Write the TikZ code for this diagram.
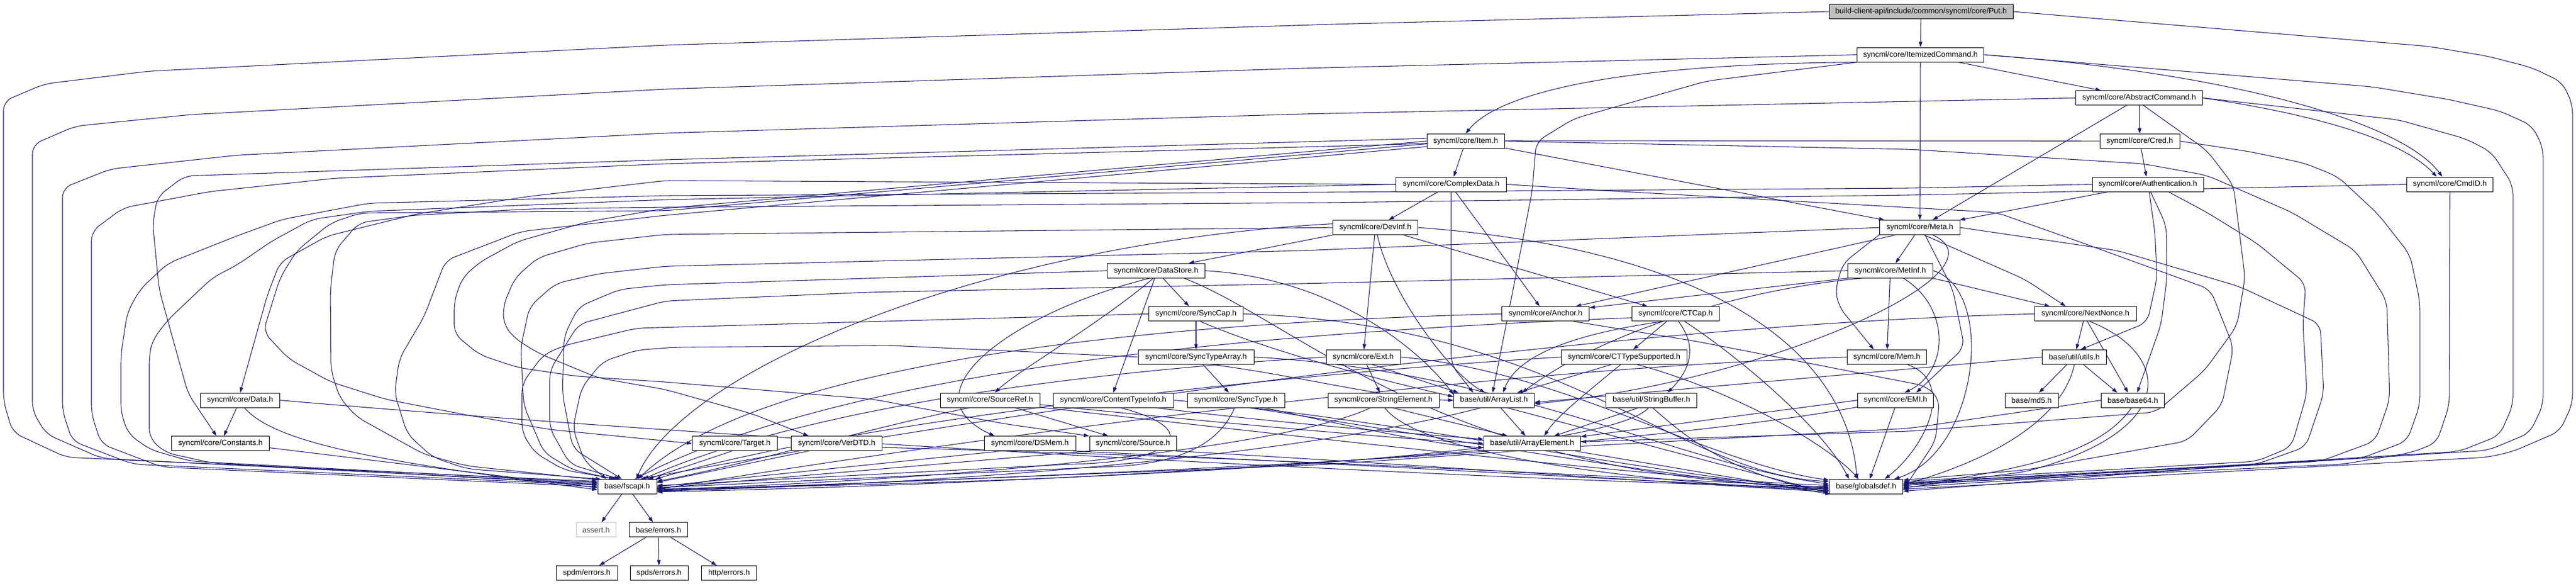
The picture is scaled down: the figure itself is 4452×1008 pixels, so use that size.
\documentclass[tikz,border=0pt]{standalone}
\usepackage{fontspec}
\setmainfont{Liberation Sans}
\usetikzlibrary{arrows.meta}
\pgfdeclarelayer{bg}
\pgfsetlayers{bg,main}
\definecolor{edgec}{HTML}{191970}
\definecolor{putfill}{HTML}{BFBFBF}
\definecolor{sysgray}{HTML}{BFBFBF}
\begin{document}
\begin{tikzpicture}[x=0.75pt,y=-0.75pt,
  nb/.style={draw=black,fill=white,line width=0.75pt,minimum height=18.75pt,inner xsep=1pt,inner ysep=0pt,font=\fontsize{10}{12}\selectfont},
  bw/.style={minimum width=#1*0.75pt},
  edg/.style={draw=edgec,line width=0.8pt,-{Triangle[length=7pt,width=4.6pt]},rounded corners=12pt}]
\useasboundingbox (0,0) rectangle (4452,1008);
% nodes
\node[nb,fill=putfill,bw=318] (put) at (3320,20) {build-client-api/include/common/syncml/core/Put.h};
\node[nb,bw=219] (itc) at (3319,94.6) {syncml/core/ItemizedCommand.h};
\node[nb,bw=219] (abs) at (3697,169.2) {syncml/core/AbstractCommand.h};
\node[nb,bw=138] (cred) at (3698,243.8) {syncml/core/Cred.h};
\node[nb,bw=192] (auth) at (3712,318.5) {syncml/core/Authentication.h};
\node[nb,bw=149] (cmdid) at (4234,318.5) {syncml/core/CmdID.h};
\node[nb,bw=134] (item) at (2533,243.8) {syncml/core/Item.h};
\node[nb,bw=191] (cplx) at (2508,318.5) {syncml/core/ComplexData.h};
\node[nb,bw=147] (devinf) at (2377,393.1) {syncml/core/DevInf.h};
\node[nb,bw=139] (meta) at (3318,393.1) {syncml/core/Meta.h};
\node[nb,bw=147] (metinf) at (3267,467.7) {syncml/core/MetInf.h};
\node[nb,bw=169] (dstore) at (1998,467.7) {syncml/core/DataStore.h};
\node[nb,bw=163] (synccap) at (2067,542.3) {syncml/core/SyncCap.h};
\node[nb,bw=151] (anchor) at (2671,542.3) {syncml/core/Anchor.h};
\node[nb,bw=151] (ctcap) at (2896,542.3) {syncml/core/CTCap.h};
\node[nb,bw=176] (nnonce) at (3604,542.3) {syncml/core/NextNonce.h};
\node[nb,bw=200] (sta) at (2067,616.9) {syncml/core/SyncTypeArray.h};
\node[nb,bw=128] (ext) at (2356,616.9) {syncml/core/Ext.h};
\node[nb,bw=217] (ctts) at (2807,616.9) {syncml/core/CTTypeSupported.h};
\node[nb,bw=137] (mem) at (3261,616.9) {syncml/core/Mem.h};
\node[nb,bw=111] (utils) at (3585,616.9) {base/util/utils.h};
\node[nb,bw=137] (data) at (415,691.5) {syncml/core/Data.h};
\node[nb,bw=172] (srcref) at (1711,691.5) {syncml/core/SourceRef.h};
\node[nb,bw=208] (cti) at (1924,691.5) {syncml/core/ContentTypeInfo.h};
\node[nb,bw=168] (synctype) at (2136,691.5) {syncml/core/SyncType.h};
\node[nb,bw=192] (strel) at (2391,691.5) {syncml/core/StringElement.h};
\node[nb,bw=139] (alist) at (2582,691.5) {base/util/ArrayList.h};
\node[nb,bw=157] (strbuf) at (2854,691.5) {base/util/StringBuffer.h};
\node[nb,bw=131] (emi) at (3276,691.5) {syncml/core/EMI.h};
\node[nb,bw=92] (md5) at (3511,691.5) {base/md5.h};
\node[nb,bw=109] (b64) at (3686,691.5) {base/base64.h};
\node[nb,bw=169] (consts) at (381,766.2) {syncml/core/Constants.h};
\node[nb,bw=147] (target) at (1270,766.2) {syncml/core/Target.h};
\node[nb,bw=157] (verdtd) at (1446,766.2) {syncml/core/VerDTD.h};
\node[nb,bw=158] (dsmem) at (1780,766.2) {syncml/core/DSMem.h};
\node[nb,bw=150] (source) at (1958,766.2) {syncml/core/Source.h};
\node[nb,bw=167] (aelem) at (2648,766.2) {base/util/ArrayElement.h};
\node[nb,bw=102] (fscapi) at (1084,840.8) {base/fscapi.h};
\node[nb,bw=127] (gdef) at (3225,840.8) {base/globalsdef.h};
\node[nb,draw=sysgray,text=black!75,bw=68] (assert) at (1030,915.4) {assert.h};
\node[nb,bw=101] (errors) at (1138,915.4) {base/errors.h};
\node[nb,bw=106] (spdm) at (1014,990) {spdm/errors.h};
\node[nb,bw=100] (spds) at (1139,990) {spds/errors.h};
\node[nb,bw=95] (http) at (1260,990) {http/errors.h};
\begin{pgfonlayer}{bg}
\fill[white] (0,0) rectangle (4452,1008);
% put
\draw[edg] (put) -- (itc);
\draw[edg] (put.west) -- (2300,42) -- (1150,78) -- (257,123) -- (77,145) -- (6,175) -- (6,693) -- (22,747) -- (114,790) -- (fscapi.170);
\draw[edg] (put.east) -- (4196,80) -- (4299,97) -- (4376,117) -- (4428,142) -- (4446,180) -- (4446,697) -- (4424,745) -- (4343,780) -- (4299,790) -- (gdef.-4);
% itc
\draw[edg] (itc.south west) .. controls (2800,110) and (2590,160) .. (item.north);
\draw[edg] (itc.south west) -- (2950,140) -- (2720,205) -- (2655,245) -- (2648,330) -- (2615,500) -- (alist.100);
\draw[edg] (itc) -- (meta);
\draw[edg] (itc) -- (abs);
\draw[edg] (itc.east) .. controls (3850,125) and (4150,210) .. (cmdid.135);
\draw[edg] (itc.west) -- (2250,118) -- (1150,154) -- (330,198) -- (130,218) -- (56,250) -- (56,710) -- (80,750) -- (176,792) -- (fscapi.174);
\draw[edg] (itc.east) -- (4100,150) -- (4233,172) -- (4321,192) -- (4376,217) -- (4395,255) -- (4395,700) -- (4372,748) -- (4300,778) -- (gdef.-1);
% abs
\draw[edg] (abs) -- (cred);
\draw[edg] (abs) -- (meta);
\draw[edg] (abs.east) .. controls (3950,190) and (4140,230) .. (cmdid.150);
\draw[edg] (abs.-60) -- (3814,260) -- (3860,320) -- (3880,480) -- (3866,563) -- (3810,640) -- (3726,712) -- (3300,745) -- (aelem.2);
\draw[edg] (abs.west) -- (2250,197) -- (1150,230) -- (411,268) -- (191,292) -- (108,325) -- (108,710) -- (125,762) -- (230,802) -- (fscapi.177);
\draw[edg] (abs.east) -- (4145,207) -- (4262,240) -- (4306,263) -- (4343,320) -- (4343,700) -- (4320,752) -- (4250,780) -- (gdef.2);
% cmdid
\draw[edg] (cmdid.south) -- (4233,700) -- (4211,765) -- (4167,782) -- (4049,802) -- (gdef.4);
\draw[edg] (cmdid.west) -- (3300,337) -- (2300,350) -- (1150,358) -- (917,361) -- (715,372) -- (620,385) -- (579,433) -- (571,500) -- (572,640) -- (587,687) -- (616,720) -- (733,785) -- (807,805) -- (fscapi.167);
% cred
\draw[edg] (cred) -- (auth);
\draw[edg] (cred.west) -- (2600,243) -- (2400,250) -- (1150,283) -- (579,308) -- (363,331) -- (213,359) -- (158,400) -- (158,715) -- (175,767) -- (280,807) -- (fscapi.180);
\draw[edg] (cred.east) -- (3888,262) -- (3983,282) -- (4040,305) -- (4110,370) -- (4165,440) -- (4182,520) -- (4182,700) -- (4160,762) -- (4080,792) -- (gdef.6);
% auth
\draw[edg] (auth) -- (meta);
\draw[edg] (auth.-80) -- (3724,400) -- (3728,480) -- (3711,557) -- (utils.50);
\draw[edg] (auth.-70) -- (3744,390) -- (3745,480) -- (3735,560) -- (b64.60);
\draw[edg] (auth.west) -- (3300,325) -- (2300,332) -- (1150,338) -- (638,351) -- (488,379) -- (411,407) -- (290,455) -- (242,500) -- (220,540) -- (209,613) -- (209,713) -- (222,750) -- (260,777) -- (330,797) -- (fscapi.172);
\draw[edg] (auth.-20) -- (3814,367) -- (3900,420) -- (3985,490) -- (3980,560) -- (3987,680) -- (3960,772) -- (3900,797) -- (gdef.8);
% item
\draw[edg] (item) -- (cplx);
\draw[edg] (item.-10) -- (meta.168);
\draw[edg] (item.176) -- (1150,276) -- (319,304) -- (272,340) -- (264,387) -- (275,500) -- (300,590) -- (325,680) -- (consts.118);
\draw[edg] (item.184) -- (1150,364) -- (623,368) -- (572,385) -- (513,433) -- (484,480) -- (455,573) -- (499,620) -- (572,660) -- (667,690) -- (807,717) -- (950,742) -- (target.west);
\draw[edg] (item.180) -- (1150,360) -- (1016,383) -- (895,417) -- (829,453) -- (799,480) -- (785,520) -- (785,577) -- (829,613) -- (895,635) -- (997,650) -- (1150,660) -- (1510,690) -- (1735,732) -- (source.north west);
\draw[edg] (item.188) -- (1150,372) -- (900,400) -- (770,450) -- (733,547) -- (690,620) -- (682,680) -- (704,750) -- (748,790) -- (807,810) -- (fscapi.164);
\draw[edg] (item.east) -- (3300,258) -- (3704,283) -- (3814,303) -- (3961,367) -- (4071,433) -- (4125,520) -- (4130,690) -- (4105,762) -- (4010,797) -- (gdef.5);
% cplx
\draw[edg] (cplx) -- (devinf);
\draw[edg] (cplx.south) -- (2508,630) -- (alist.160);
\draw[edg] (cplx.-60) -- (2625,480) -- (anchor.128);
\draw[edg] (cplx.west) -- (1150,312) -- (909,340) -- (719,370) -- (565,408) -- (484,453) -- (462,510) -- (data.north);
\draw[edg] (cplx.west) -- (1150,345) -- (638,365) -- (539,379) -- (469,417) -- (411,457) -- (367,480) -- (290,553) -- (264,587) -- (258,613) -- (258,757) -- (286,782) -- (367,800) -- (fscapi.176);
\draw[edg] (cplx.east) -- (2786,330) -- (3450,367) -- (3600,420) -- (3820,500) -- (3860,600) -- (3840,700) -- (3780,762) -- (3500,812) -- (gdef.10);
% devinf
\draw[edg] (devinf.south west) -- (dstore.13);
\draw[edg] (devinf.-15) -- (ctcap.165);
\draw[edg] (devinf) -- (ext);
\draw[edg] (devinf.-75) .. controls (2400,500) and (2500,640) .. (alist.140);
\draw[edg] (devinf.west) -- (1150,405) -- (1016,420) -- (930,445) -- (890,480) -- (870,527) -- (870,560) -- (890,585) -- (930,610) -- (1034,653) -- (1150,673) -- (1300,715) -- (verdtd.165);
\draw[edg] (devinf.175) .. controls (1700,420) and (1180,640) .. (fscapi.40);
\draw[edg] (devinf.east) .. controls (2950,430) and (3190,600) .. (gdef.140);
% meta
\draw[edg] (meta) -- (metinf);
\draw[edg] (meta.-163) -- (anchor.14);
\draw[edg] (meta.-60) -- (3500,483) -- (nnonce.159);
\draw[edg] (meta.-170) -- (3185,455) -- (3172,500) -- (3178,530) -- (mem.150);
\draw[edg] (meta.-55) -- (3375,500) -- (3395,600) -- (emi.20);
\draw[edg] (meta.-30) .. controls (3480,470) and (3050,660) .. (alist.-5);
\draw[edg] (meta.west) -- (2250,433) -- (1150,460) -- (1034,473) -- (960,490) -- (915,530) -- (900,600) -- (905,700) -- (940,782) -- (990,812) -- (fscapi.150);
\draw[edg] (meta.east) -- (3660,433) -- (3870,495) -- (4010,560) -- (4016,680) -- (3985,772) -- (3900,802) -- (gdef.-7);
% metinf
\draw[edg] (metinf.south west) -- (anchor.8);
\draw[edg] (metinf.-10) -- (nnonce.168);
\draw[edg] (metinf) -- (mem);
\draw[edg] (metinf.-30) .. controls (3370,530) and (3370,640) .. (emi.40);
\draw[edg] (metinf.-165) .. controls (3000,500) and (2760,580) .. (alist.15);
\draw[edg] (metinf.west) -- (2250,490) -- (1500,505) -- (1150,520) -- (1000,560) -- (950,640) -- (950,740) -- (985,802) -- (fscapi.135);
\draw[edg] (metinf.east) .. controls (3450,500) and (3420,780) .. (gdef.15);
% dstore
\draw[edg] (dstore) -- (synccap);
\draw[edg] (dstore.-110) .. controls (1900,560) and (1760,640) .. (srcref.58);
\draw[edg] (dstore.-100) -- (cti.north);
\draw[edg] (dstore.-130) .. controls (1750,540) and (1560,680) .. (dsmem.168);
\draw[edg] (dstore.east) .. controls (2300,480) and (2450,600) .. (alist.172);
\draw[edg] (dstore.west) -- (1150,492) -- (1071,500) -- (1000,530) -- (975,580) -- (972,680) -- (990,775) -- (fscapi.125);
\draw[edg] (dstore.-15) .. controls (2250,560) and (2500,830) .. (gdef.west);
% synccap
\draw[edg] (synccap) -- (sta);
\draw[edg] (synccap.-60) .. controls (2200,610) and (2400,660) .. (alist.175);
\draw[edg] (synccap.west) -- (1100,567) -- (975,597) -- (939,613) -- (902,663) -- (902,747) -- (924,782) -- (975,812) -- (fscapi.145);
\draw[edg] (synccap.east) .. controls (2700,560) and (2900,820) .. (gdef.172);
% sta
\draw[edg] (sta) -- (synctype);
\draw[edg] (sta.-25) .. controls (2250,650) and (2400,690) .. (alist.180);
\draw[edg] (sta.west) -- (1760,607) -- (1540,597) -- (1166,600) -- (1100,605) -- (1041,625) -- (1005,670) -- (990,740) -- (1010,797) -- (fscapi.160);
\draw[edg] (sta.east) .. controls (2600,640) and (2900,800) .. (gdef.176);
% srcref
\draw[edg] (srcref) -- (source.163);
\draw[edg] (srcref.-160) .. controls (1500,740) and (1300,800) .. (fscapi.10);
\draw[edg] (srcref.-8) .. controls (2300,760) and (2900,830) .. (gdef.178);
\draw[edg] (srcref.-5) .. controls (2200,740) and (2450,760) .. (aelem.west);
% cti
\draw[edg] (cti.-45) .. controls (2090,745) and (2020,797) .. (1850,802) -- (fscapi.2);
\draw[edg] (cti.east) .. controls (2400,720) and (2900,830) .. (gdef.183);
\draw[edg] (cti.-10) .. controls (2200,730) and (2450,750) .. (aelem.175);
% synctype
\draw[edg] (synctype.-100) .. controls (2110,760) and (2050,802) .. (1900,807) -- (fscapi.-2);
\draw[edg] (synctype.-30) .. controls (2400,740) and (2900,830) .. (gdef.186);
\draw[edg] (synctype.-15) .. controls (2350,740) and (2480,768) .. (aelem.185);
% target, verdtd, dsmem, source
\draw[edg] (target.-110) -- (fscapi.20);
\draw[edg] (verdtd.-165) -- (fscapi.8);
\draw[edg] (verdtd.-5) .. controls (2200,790) and (2900,830) .. (gdef.181);
\draw[edg] (dsmem.-165) -- (fscapi.0);
\draw[edg] (dsmem.-10) .. controls (2300,800) and (2900,835) .. (gdef.-176);
\draw[edg] (source.-170) -- (fscapi.-3);
\draw[edg] (source.-10) .. controls (2400,800) and (2900,835) .. (gdef.-172);
% data, consts
\draw[edg] (data) -- (consts);
\draw[edg] (data.-60) .. controls (480,772) and (700,802) .. (fscapi.-174);
\draw[edg] (data.east) .. controls (1400,770) and (2600,830) .. (gdef.-178);
\draw[edg] (consts.-5) -- (fscapi.-178);
% anchor
\draw[edg] (anchor.west) .. controls (1900,560) and (1300,640) .. (fscapi.35);
\draw[edg] (anchor.-15) -- (2933,590) -- (3329,667) -- (3352,690) -- (3345,762) -- (gdef.-5);
% ctcap
\draw[edg] (ctcap) -- (ctts);
\draw[edg] (ctcap.-150) .. controls (2700,580) and (2620,620) .. (alist.40);
\draw[edg] (ctcap.-70) .. controls (2935,600) and (2920,640) .. (strbuf.25);
\draw[edg] (ctcap.-40) .. controls (3010,620) and (3150,740) .. (gdef.156);
\draw[edg] (ctcap.-175) .. controls (2300,570) and (1500,620) .. (fscapi.45);
% ext
\draw[edg] (ext) -- (strel);
\draw[edg] (ext.-40) -- (alist.168);
\draw[edg] (ext.west) .. controls (1900,640) and (1400,700) .. (fscapi.25);
\draw[edg] (ext.east) .. controls (2700,640) and (2950,800) .. (gdef.170);
% ctts
\draw[edg] (ctts.-150) -- (alist.18);
\draw[edg] (ctts.-115) .. controls (2740,680) and (2690,720) .. (aelem.32);
\draw[edg] (ctts.-30) .. controls (2980,670) and (3150,760) .. (gdef.134);
\draw[edg] (ctts.west) .. controls (2300,640) and (1500,720) .. (fscapi.15);
% mem
\draw[edg] (mem.west) .. controls (2500,640) and (1600,770) .. (fscapi.-5);
\draw[edg] (mem.-20) .. controls (3380,660) and (3330,770) .. (gdef.22);
% strel
\draw[edg] (strel.-40) -- (aelem.163);
\draw[edg] (strel.-150) .. controls (2250,762) and (1800,822) .. (fscapi.-6);
\draw[edg] (strel.-80) .. controls (2450,782) and (2800,832) .. (gdef.-174);
% alist
\draw[edg] (alist) -- (aelem);
\draw[edg] (alist.-30) -- (gdef.-170);
\draw[edg] (alist.-150) .. controls (2300,772) and (1800,832) .. (fscapi.-8);
% strbuf
\draw[edg] (strbuf.-150) -- (aelem.19);
\draw[edg] (strbuf.-80) .. controls (2920,762) and (3000,822) .. (gdef.188);
\draw[edg] (strbuf.-110) .. controls (2780,782) and (2000,832) .. (fscapi.-4);
% emi
\draw[edg] (emi.west) -- (aelem.8);
\draw[edg] (emi.-95) -- (gdef.64);
\draw[edg] (emi.-170) .. controls (2900,762) and (2000,832) .. (fscapi.-10);
% aelem
\draw[edg] (aelem.-10) -- (gdef.-168);
\draw[edg] (aelem.-170) .. controls (2300,802) and (1600,832) .. (fscapi.-7);
% nnonce
\draw[edg] (nnonce) -- (utils);
\draw[edg] (nnonce.-75) -- (b64.122);
\draw[edg] (nnonce.-60) .. controls (3750,610) and (3770,740) .. (3500,815) -- (gdef.-2);
\draw[edg] (nnonce.west) .. controls (2800,560) and (1800,700) .. (fscapi.30);
% utils
\draw[edg] (utils) -- (md5);
\draw[edg] (utils) -- (b64.154);
\draw[edg] (utils.west) -- (alist.-3);
\draw[edg] (utils.south) .. controls (3565,722) and (3450,792) .. (gdef.3);
% b64
\draw[edg] (b64.-100) .. controls (3630,782) and (3500,812) .. (gdef.1);
\draw[edg] (b64.west) -- (3300,740) -- (2750,770) -- (2300,802) -- (fscapi.-9);
% fscapi, errors
\draw[edg] (fscapi) -- (assert);
\draw[edg] (fscapi) -- (errors);
\draw[edg] (errors) -- (spdm);
\draw[edg] (errors) -- (spds);
\draw[edg] (errors) -- (http);
\end{pgfonlayer}
\end{tikzpicture}
\end{document}
